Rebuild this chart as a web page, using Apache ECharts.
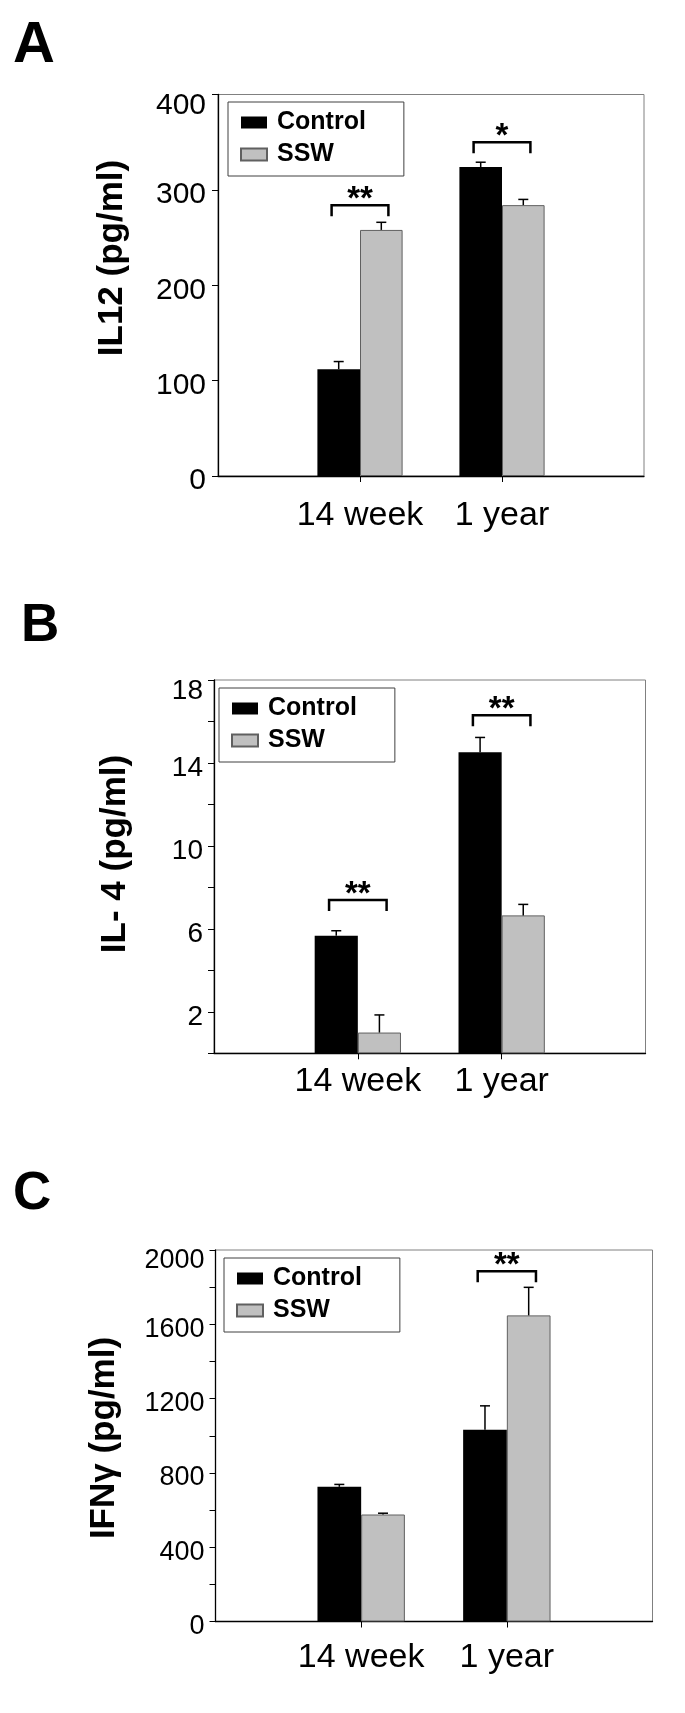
<!DOCTYPE html>
<html><head><meta charset="utf-8">
<script src="https://cdn.jsdelivr.net/npm/echarts@6/dist/echarts.min.js"></script>
<style>html,body{margin:0;padding:0;background:#fff}#c{width:685px;height:1713px}</style>
</head><body><div id="c"></div>
<script>
// ---------- DATA ----------
const categories = ['', '14 week', '1 year', ''];
const seriesNames = ['Control', 'SSW'];

// Panel A: IL12 (pg/ml)
const il12Control = [null, 112, 324, null];
const il12ControlErr = [null, 8, 5, null];
const il12SSW = [null, 258, 284, null];
const il12SSWErr = [null, 8, 6, null];
const il12SigCat = [1, 2];
const il12SigY = [284, 350];
const il12SigText = ['**', '*'];
const il12LabelTicks = [0, 100, 200, 300, 400];

// Panel B: IL-4 (pg/ml)
const il4Control = [null, 5.67, 14.52, null];
const il4ControlErr = [null, 0.24, 0.71, null];
const il4SSW = [null, 1.0, 6.65, null];
const il4SSWErr = [null, 0.85, 0.53, null];
const il4SigCat = [1, 2];
const il4SigY = [7.39, 16.3];
const il4SigText = ['**', '**'];
const il4LabelTicks = [2, 6, 10, 14, 18];

// Panel C: IFNγ (pg/ml)
const ifnControl = [null, 725, 1032, null];
const ifnControlErr = [null, 13, 129, null];
const ifnSSW = [null, 576, 1648, null];
const ifnSSWErr = [null, 7, 151, null];
const ifnSigCat = [2];
const ifnSigY = [1886];
const ifnSigText = ['**'];
const ifnLabelTicks = [0, 400, 800, 1200, 1600, 2000];

const panelLetters = ['A', 'B', 'C'];
const axisTitles = ['IL12 (pg/ml)', 'IL- 4 (pg/ml)', 'IFNγ (pg/ml)'];
const yMin = [0, 0, 0];
const yMax = [400, 18, 2000];
const yInterval = [100, 2, 200];

// ---------- LAYOUT / STYLE ----------
const FONT = 'Liberation Sans, Arial, Helvetica, sans-serif';
const layout = [
  {grid: {left: 218, top: 94.5, width: 426, height: 381.5}, legend: {left: 228, top: 102},
   yFont: 30, yMargin: 12, xMargin: 23, title: {x: 112.6, y: 258}, letter: {x: 13, y: 46, size: 58}},
  {grid: {left: 214, top: 680, width: 431.5, height: 373.3}, legend: {left: 219, top: 688},
   yFont: 28, yMargin: 11, xMargin: 11, title: {x: 115, y: 854}, letter: {x: 21, y: 626, size: 53}},
  {grid: {left: 215.5, top: 1250, width: 437, height: 371.5}, legend: {left: 224, top: 1258},
   yFont: 27, yMargin: 11, xMargin: 19, title: {x: 104.5, y: 1438}, letter: {x: 13, y: 1194, size: 53}}
];

const panels = [
  {control: il12Control, controlErr: il12ControlErr, ssw: il12SSW, sswErr: il12SSWErr,
   sigCat: il12SigCat, sigY: il12SigY, sigText: il12SigText, labelTicks: il12LabelTicks},
  {control: il4Control, controlErr: il4ControlErr, ssw: il4SSW, sswErr: il4SSWErr,
   sigCat: il4SigCat, sigY: il4SigY, sigText: il4SigText, labelTicks: il4LabelTicks},
  {control: ifnControl, controlErr: ifnControlErr, ssw: ifnSSW, sswErr: ifnSSWErr,
   sigCat: ifnSigCat, sigY: ifnSigY, sigText: ifnSigText, labelTicks: ifnLabelTicks}
];

const BAR_FRAC = 0.3;

function errorData(vals, errs, side) {
  const out = [];
  vals.forEach((v, i) => { if (v != null) out.push([i, v, errs[i], side]); });
  return out;
}

function renderError(params, api) {
  const cat = api.value(0), val = api.value(1), err = api.value(2), side = api.value(3);
  const bw = api.size([1, 0])[0];
  const barW = bw * BAR_FRAC;
  const base = api.coord([cat, val]);
  const top = api.coord([cat, val + err]);
  const x = base[0] + side * barW / 2;
  const cap = 5;
  const st = {stroke: '#000', lineWidth: 1.5};
  return {type: 'group', children: [
    {type: 'line', shape: {x1: x, y1: base[1], x2: x, y2: top[1]}, style: st},
    {type: 'line', shape: {x1: x - cap, y1: top[1], x2: x + cap, y2: top[1]}, style: st}
  ]};
}

function makeSigRenderer(texts) {
  return function (params, api) {
    const pt = api.coord([api.value(0), api.value(1)]);
    const bw = api.size([1, 0])[0];
    const half = bw * 0.2;
    const leg = 11;
    return {type: 'group', children: [
      {type: 'polyline', shape: {points: [[pt[0] - half, pt[1] + leg], [pt[0] - half, pt[1]],
        [pt[0] + half, pt[1]], [pt[0] + half, pt[1] + leg]]},
       style: {stroke: '#000', lineWidth: 2.5, fill: null}},
      {type: 'text', x: pt[0], y: pt[1] - 5,
       style: {text: texts[params.dataIndex], font: 'bold 33px ' + FONT, fill: '#000',
               align: 'center', verticalAlign: 'middle'}}
    ]};
  };
}

const grids = [], xAxes = [], yAxes = [], series = [], legends = [], graphics = [];

panels.forEach((p, k) => {
  const L = layout[k];
  grids.push(Object.assign({show: true, borderColor: '#808080', borderWidth: 1, containLabel: false}, L.grid));
  xAxes.push({
    type: 'category', gridIndex: k, data: categories, boundaryGap: false,
    axisLine: {lineStyle: {color: '#000', width: 1.3}},
    axisTick: {show: true, length: 6, interval: (i, v) => v !== '', lineStyle: {color: '#000'}},
    axisLabel: {interval: 0, fontSize: 34, fontFamily: FONT, color: '#000', margin: L.xMargin},
    splitLine: {show: false}
  });
  const maxV = yMax[k];
  yAxes.push({
    type: 'value', gridIndex: k, min: yMin[k], max: maxV, interval: yInterval[k],
    axisLine: {show: true, lineStyle: {color: '#000', width: 1.3}},
    axisTick: {show: true, length: 6, lineStyle: {color: '#000'}},
    splitLine: {show: false},
    axisLabel: {
      fontSize: L.yFont, fontFamily: FONT, color: '#000', margin: L.yMargin,
      padding: [10, 0, 0, 0],
      formatter: v => {
        if (p.labelTicks.indexOf(v) < 0) return '';
        return v === maxV ? '{t|' + v + '}' : String(v);
      },
      rich: {t: {fontSize: L.yFont, fontFamily: FONT, color: '#000', padding: [12, 0, 0, 0]}}
    }
  });
  series.push({
    name: seriesNames[0], type: 'bar', xAxisIndex: k, yAxisIndex: k, data: p.control,
    barWidth: (BAR_FRAC * 100) + '%', barGap: '0%',
    itemStyle: {color: '#000'}, z: 2
  });
  series.push({
    name: seriesNames[1], type: 'bar', xAxisIndex: k, yAxisIndex: k, data: p.ssw,
    barWidth: (BAR_FRAC * 100) + '%', barGap: '0%',
    itemStyle: {color: '#c0c0c0', borderColor: '#606060', borderWidth: 1}, z: 2
  });
  series.push({
    type: 'custom', xAxisIndex: k, yAxisIndex: k, z: 3, silent: true,
    data: errorData(p.control, p.controlErr, -1).concat(errorData(p.ssw, p.sswErr, 1)),
    encode: {x: 0, y: 1}, renderItem: renderError
  });
  series.push({
    type: 'custom', xAxisIndex: k, yAxisIndex: k, z: 3, silent: true,
    data: p.sigCat.map((c, i) => [c, p.sigY[i]]),
    encode: {x: 0, y: 1}, renderItem: makeSigRenderer(p.sigText)
  });
  legends.push({
    left: L.legend.left, top: L.legend.top, orient: 'vertical', data: seriesNames,
    itemWidth: 26, itemHeight: 12, itemGap: 7, padding: [8, 38, 9, 12],
    borderColor: '#404040', borderWidth: 1, backgroundColor: '#fff', icon: 'rect',
    selectedMode: false,
    textStyle: {fontSize: 25, fontWeight: 'bold', color: '#000', fontFamily: FONT, padding: [0, 0, 0, 5]}
  });
  graphics.push({
    type: 'text', x: L.title.x, y: L.title.y, rotation: Math.PI / 2,
    style: {text: axisTitles[k], font: 'bold 35px ' + FONT, fill: '#000', align: 'center', verticalAlign: 'middle'}
  });
  graphics.push({
    type: 'text', x: L.letter.x, y: L.letter.y,
    style: {text: panelLetters[k], font: 'bold ' + L.letter.size + 'px ' + FONT, fill: '#000',
            align: 'left', verticalAlign: 'middle',
            shadowColor: 'rgba(0,0,0,0.35)', shadowBlur: 3, shadowOffsetX: 3, shadowOffsetY: 3}
  });
});

const chart = echarts.init(document.getElementById('c'), null, {renderer: 'canvas'});
chart.setOption({
  animation: false,
  backgroundColor: '#fff',
  grid: grids, xAxis: xAxes, yAxis: yAxes, series: series, legend: legends,
  graphic: graphics
});
</script></body></html>
